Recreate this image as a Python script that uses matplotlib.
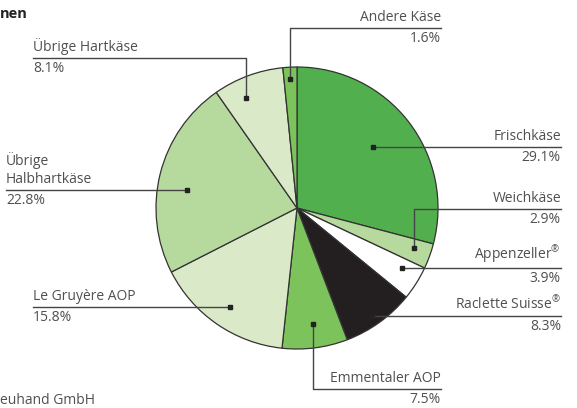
import matplotlib
matplotlib.use("Agg")
import matplotlib.pyplot as plt
import numpy as np

# data
categories = ["Frischkäse", "Weichkäse", "Appenzeller$^{®}$", "Raclette Suisse$^{®}$", "Emmentaler AOP",
              "Le Gruyère AOP", "Übrige\nHalbhartkäse", "Übrige Hartkäse", "Andere Käse"]
shares = [29.1, 2.9, 3.9, 8.3, 7.5, 15.8, 22.8, 8.1, 1.6]
colors = ["#52AF4E", "#B6DA9E", "#FFFFFF", "#231F20", "#7CC35B",
          "#DAEAC9", "#B6DA9E", "#DAEAC9", "#7CC35B"]

W, H = 577, 408
CX, CY, R = 297, H - 208, 141
TEXT = "#505050"
LINE = "#444444"

# label layout: (kind, position along wedge, radius fraction, text x, line y for 'v', side)
layout = [
    ("h", 0.49, 0.69, 561, None, "right"),
    ("v", 0.40, 0.88, 561, H - 209, "right"),
    ("h", 0.32, 0.86, 561, None, "right"),
    ("h", 0.53, 0.93, 561, None, "right"),
    ("v", 0.48, 0.83, 441, H - 389, "right"),
    ("h", 0.49, 0.85, 33, None, "left"),
    ("h", 0.44, 0.79, 6, None, "left"),
    ("v", 0.35, 0.86, 33, H - 58, "left"),
    ("v", 0.46, 0.915, 441, H - 28, "right"),
]

plt.rcParams["font.family"] = ["Open Sans", "DejaVu Sans"]
plt.rcParams["mathtext.fontset"] = "custom"
plt.rcParams["mathtext.rm"] = "Open Sans"
plt.rcParams["mathtext.default"] = "rm"
fig = plt.figure(figsize=(W / 100, H / 100), dpi=100)
ax = fig.add_axes([0, 0, 1, 1])

ax.pie(shares, colors=colors, startangle=90, counterclock=False, center=(CX, CY), radius=R,
       wedgeprops=dict(edgecolor="#333333", linewidth=0.9), frame=True)
ax.set_xlim(0, W)
ax.set_ylim(0, H)
ax.axis("off")

cum = np.concatenate([[0], np.cumsum(shares)])
for i, (name, val) in enumerate(zip(categories, shares)):
    kind, t, rf, tx, ly, side = layout[i]
    ang = np.deg2rad(90 - 3.6 * (cum[i] + t * val))
    dx, dy = CX + rf * R * np.cos(ang), CY + rf * R * np.sin(ang)
    if kind == "h":
        ly = dy
        ax.plot([dx, tx], [ly, ly], color=LINE, lw=1.0, zorder=3)
    else:
        ax.plot([dx, dx, tx], [dy, ly, ly], color=LINE, lw=1.0, zorder=3)
    ax.plot(dx, dy, marker="s", ms=2.6, color="#222222", zorder=4)
    ha = "right" if side == "right" else "left"
    ax.text(tx, ly + 3, name, ha=ha, va="bottom", fontsize=10, color=TEXT, linespacing=1.3)
    ax.text(tx, ly - 3, f"{val:.1f}%", ha=ha, va="top", fontsize=10, color=TEXT)

# title and source, cropped at the left edge as in the original
ax.text(0, H - 14, "nen", ha="left", va="center", fontsize=10.5, fontweight="bold", color="#222222")
ax.text(0, H - 400, "euhand GmbH", ha="left", va="center", fontsize=10, color=TEXT)

fig.savefig("out.png", dpi=100)
